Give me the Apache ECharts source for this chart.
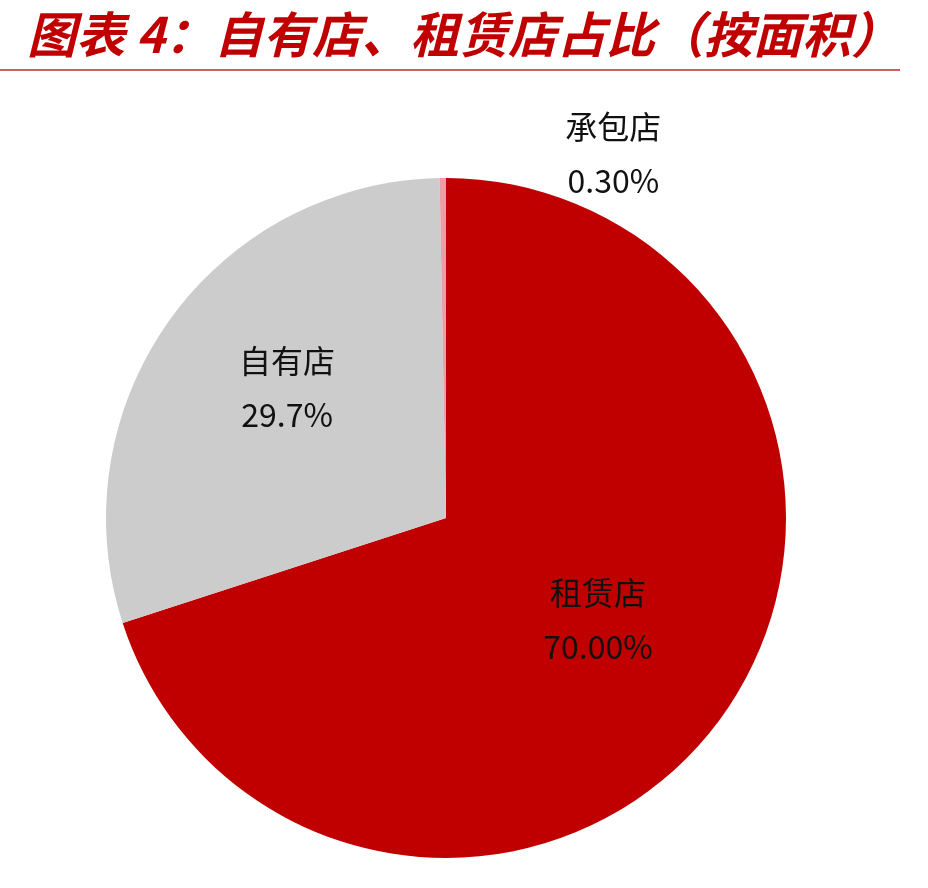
<!DOCTYPE html>
<html>
<head>
<meta charset="utf-8">
<script src="https://cdn.jsdelivr.net/npm/echarts@6/dist/echarts.min.js"></script>
<style>html,body{margin:0;padding:0;background:#fff;}#main{width:928px;height:888px;}</style>
</head>
<body>
<div id="main"></div>
<script>
var titleText = '图表 4：自有店、租赁店占比（按面积）';
var categories = ['租赁店', '自有店', '承包店'];
var values = [70.00, 29.7, 0.30];
var valueLabels = ['70.00%', '29.7%', '0.30%'];
var colors = ['#C00000', '#CCCCCC', '#E8A0A6'];
var labelShift = [[12, 0], [-18, -30], [169, -191]];

var chart = echarts.init(document.getElementById('main'));
chart.setOption({
  animation: false,
  title: {
    text: titleText,
    left: 22, top: 5,
    textStyle: {
      fontFamily: 'Noto Sans CJK SC',
      fontStyle: 'italic',
      fontWeight: 'bold',
      fontSize: 49,
      color: '#C00000'
    }
  },
  graphic: [{
    type: 'line',
    shape: {x1: 0, y1: 70, x2: 900, y2: 70},
    style: {stroke: '#C0282A', lineWidth: 1.5}
  }],
  series: [{
    type: 'pie',
    center: [446, 518],
    radius: [0, 340],
    startAngle: 90,
    clockwise: true,
    silent: true,
    data: categories.map(function (c, i) {
      return {name: c, value: values[i], itemStyle: {color: colors[i]}};
    }),
    label: {
      show: true,
      position: 'inside',
      formatter: function (p) { return p.name + '\n' + valueLabels[p.dataIndex]; },
      fontFamily: 'Noto Sans CJK SC',
      fontSize: 32,
      lineHeight: 54,
      color: '#111111'
    },
    labelLine: {show: false},
    labelLayout: function (p) {
      return {dx: labelShift[p.dataIndex][0], dy: labelShift[p.dataIndex][1]};
    }
  }]
});
</script>
</body>
</html>
